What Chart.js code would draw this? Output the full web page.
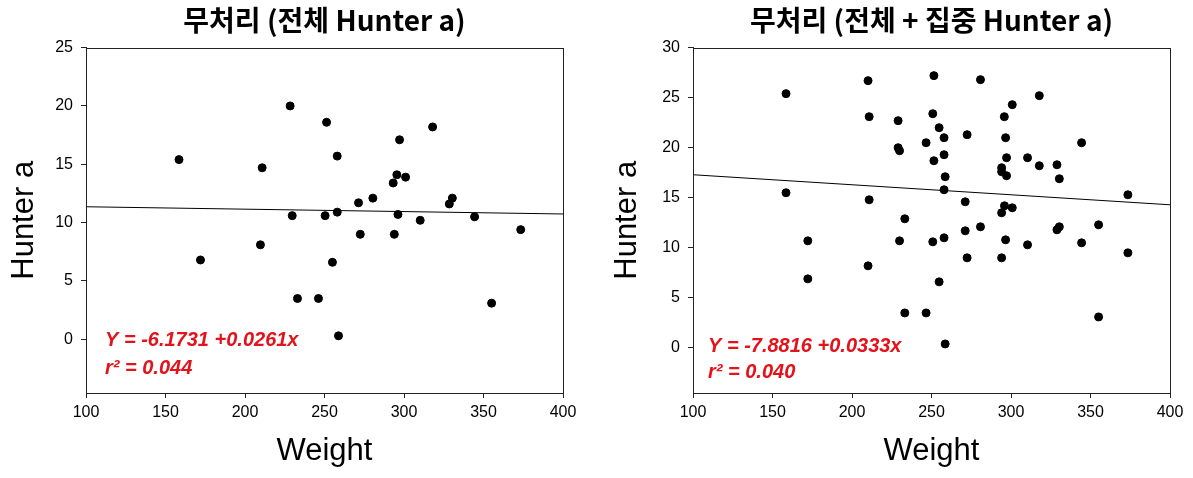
<!DOCTYPE html>
<html>
<head>
<meta charset="utf-8">
<script src="https://cdn.jsdelivr.net/npm/chart.js@4"></script>
<style>
  body { margin: 0; background: #fff; width: 1193px; height: 478px; overflow: hidden; position: relative; }
  .box { position: absolute; top: 0; height: 478px; }
</style>
</head>
<body>
<div class="box" style="left:0;width:600px"><canvas id="chartAll"></canvas></div>
<div class="box" style="left:600px;width:593px"><canvas id="chartBoth"></canvas></div>
<script>
// 무처리 (전체 Hunter a)
var weightAll = [158.5, 172.0, 210.8, 209.7, 228.4, 229.7, 233.0, 246.2, 251.3, 250.4, 255.0, 258.0, 258.0, 258.8, 271.4,
                 272.5, 280.4, 293.2, 293.9, 295.5, 296.2, 297.2, 301.0, 310.2, 318.0, 328.5, 330.4, 344.4, 355.1, 373.4];
var hunterAll = [15.4, 6.8, 14.7, 8.1, 20.0, 10.6, 3.5, 3.5, 18.6, 10.6, 6.6, 15.7, 10.9, 0.3, 11.7,
                 9.0, 12.1, 13.4, 9.0, 14.1, 10.7, 17.1, 13.9, 10.2, 18.2, 11.6, 12.1, 10.5, 3.1, 9.4];

// 무처리 (전체 + 집중 Hunter a)
var weightBoth = [158.5, 158.5, 172.2, 172.2, 210.1, 210.8, 210.8, 210.1, 229.0, 229.0, 229.9, 233.2, 229.9, 233.2, 246.6,
                  246.6, 251.5, 250.8, 251.5, 250.8, 254.8, 254.8, 257.9, 257.9, 258.6, 257.9, 257.9, 258.6, 271.2, 271.2,
                  272.4, 272.4, 280.8, 280.8, 294.1, 294.1, 297.2, 294.1, 294.1, 295.8, 296.6, 297.2, 295.9, 296.6, 300.8,
                  300.8, 310.4, 310.4, 317.8, 317.8, 328.9, 330.4, 328.9, 330.4, 344.4, 344.4, 355.1, 355.1, 373.5, 373.5];
var hunterBoth = [25.4, 15.5, 10.7, 6.9, 26.7, 23.1, 14.8, 8.2, 22.7, 20.0, 19.7, 12.9, 10.7, 3.5, 20.5,
                  3.5, 27.2, 23.4, 18.7, 10.6, 22.0, 6.6, 21.0, 19.3, 17.1, 15.8, 11.0, 0.4, 14.6, 11.7,
                  21.3, 9.0, 26.8, 12.1, 18.0, 17.6, 17.2, 13.5, 9.0, 23.1, 21.0, 19.0, 14.2, 10.8, 24.3,
                  14.0, 19.0, 10.3, 25.2, 18.2, 18.3, 16.9, 11.8, 12.1, 20.5, 10.5, 12.3, 3.1, 15.3, 9.5];

// fitted lines as drawn (ends at x = 100 and 400)
var fitX = [100, 400];
var fitAll = [11.36, 10.74];
var fitBoth = [17.3, 14.3];

var xTicks = [100, 150, 200, 250, 300, 350, 400];
var yTicksAll = [0, 5, 10, 15, 20, 25];
var yTicksBoth = [0, 5, 10, 15, 20, 25, 30];

var fontFam = '"Liberation Sans", Arial, sans-serif';

// 박스 테두리
var framePlugin = {
    id: 'frame',
    afterDatasetsDraw(chart) {
        var a = chart.chartArea, ctx = chart.ctx;
        ctx.save();
        ctx.strokeStyle = '#222';
        ctx.lineWidth = 1;
        ctx.strokeRect(Math.round(a.left) + 0.5, Math.round(a.top) + 0.5,
                       Math.round(a.right - a.left), Math.round(a.bottom - a.top));
        ctx.restore();
    }
};

// 회귀식 텍스트
var eqPlugin = {
    id: 'eq',
    afterDraw(chart) {
        var o = chart.options.plugins.eq;
        if (!o || !o.lines) return;
        var a = chart.chartArea, ctx = chart.ctx;
        ctx.save();
        ctx.font = 'italic bold 20px ' + fontFam;
        ctx.fillStyle = '#e3121b';
        ctx.textBaseline = 'middle';
        o.lines.forEach(function (t, i) {
            ctx.fillText(t, a.left + o.dx, a.bottom - o.dy[i]);
        });
        ctx.restore();
    }
};

function makeChart(id, weight, hunter, fit, yTicks, yMin, cfg) {
    var points = weight.map(function (w, i) { return { x: w, y: hunter[i] }; });
    var line = fitX.map(function (x, i) { return { x: x, y: fit[i] }; });

    return new Chart(document.getElementById(id), {
        type: 'scatter',
        data: {
            datasets: [{
                data: points,
                backgroundColor: '#000',
                borderColor: '#000',
                pointRadius: 4,
                pointHoverRadius: 4
            }, {
                type: 'line',
                data: line,
                borderColor: '#000',
                borderWidth: 1,
                pointRadius: 0,
                fill: false
            }]
        },
        options: {
            responsive: true,
            maintainAspectRatio: false,
            animation: false,
            layout: { padding: { left: 0, top: 0, bottom: 0, right: cfg.padRight } },
            scales: {
                x: {
                    type: 'linear',
                    min: 100,
                    max: 400,
                    afterBuildTicks: function (s) { s.ticks = xTicks.map(function (v) { return { value: v }; }); },
                    afterFit: function (s) { s.height = 85; },
                    grid: { drawOnChartArea: false, drawTicks: true, tickLength: 5, color: '#222' },
                    border: { display: true, color: '#222' },
                    ticks: { color: '#000', padding: 5, font: { family: fontFam, size: 16 } },
                    title: { display: true, text: 'Weight', color: '#000', padding: { top: 0, bottom: 8 },
                             font: { family: fontFam, size: 31 } }
                },
                y: {
                    type: 'linear',
                    min: yMin,
                    max: yTicks[yTicks.length - 1],
                    afterBuildTicks: function (s) { s.ticks = yTicks.map(function (v) { return { value: v }; }); },
                    afterFit: function (s) { s.width = cfg.yWidth; },
                    grid: { drawOnChartArea: false, drawTicks: true, tickLength: 5, color: '#222' },
                    border: { display: true, color: '#222' },
                    ticks: { color: '#000', padding: 8, font: { family: fontFam, size: 16 } },
                    title: { display: true, text: 'Hunter a', color: '#000', padding: { top: cfg.yTitlePad, bottom: 0 },
                             font: { family: fontFam, size: 31 } }
                }
            },
            plugins: {
                legend: { display: false },
                tooltip: { enabled: false },
                title: {
                    display: true,
                    text: cfg.title,
                    fullSize: false,
                    color: '#000',
                    padding: { top: 4, bottom: 10 },
                    font: { family: '"Noto Sans CJK KR", sans-serif', size: 28, weight: 'bold' }
                },
                eq: cfg.eq
            }
        },
        plugins: [framePlugin, eqPlugin]
    });
}

makeChart('chartAll', weightAll, hunterAll, fitAll, yTicksAll, -4.6, {
    title: '무처리 (전체 Hunter a)',
    padRight: 37,
    yWidth: 86,
    yTitlePad: 6,
    eq: { lines: ['Y = -6.1731 +0.0261x', 'r\u00b2 = 0.044'], dx: 19, dy: [53, 25] }
});

makeChart('chartBoth', weightBoth, hunterBoth, fitBoth, yTicksBoth, -4.5, {
    title: '무처리 (전체 + 집중 Hunter a)',
    padRight: 23,
    yWidth: 93,
    yTitlePad: 9,
    eq: { lines: ['Y = -7.8816 +0.0333x', 'r\u00b2 = 0.040'], dx: 15, dy: [47, 21] }
});
</script>
</body>
</html>
